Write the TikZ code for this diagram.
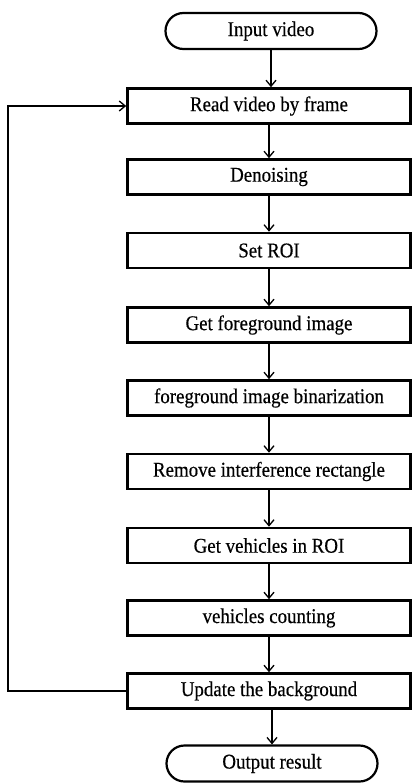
\documentclass[tikz,border=0pt]{standalone}
\usepackage{fontspec}
\setmainfont[FakeStretch=0.9,FakeBold=0.4]{Liberation Serif}
\usetikzlibrary{arrows.meta,shapes.misc}
\begin{document}
\begin{tikzpicture}[x=1pt,y=-1pt,
  stepbox/.style={draw,line width=2.6pt,minimum width=283pt,minimum height=35pt,inner sep=0pt,font=\fontsize{21}{23}\selectfont},
  term/.style={draw,line width=2.2pt,rounded rectangle,minimum width=211pt,minimum height=36pt,inner sep=0pt,font=\fontsize{21}{23}\selectfont},
  arr/.style={line width=1.3pt,-{Straight Barb[length=6pt,width=10pt,line width=1.3pt]}}]
\useasboundingbox (0,0) rectangle (413,784);
\node[term] (in) at (271,31) {Input video};
\node[stepbox] (read) at (269,106) {Read video by frame};
\node[stepbox] (den) at (269,177) {Denoising};
\node[stepbox] (roi) at (269,250.5) {Set ROI};
\node[stepbox] (fg) at (269,325) {Get foreground image};
\node[stepbox] (bin) at (269,398) {foreground image binarization};
\node[stepbox] (rem) at (269,471.5) {Remove interference rectangle};
\node[stepbox] (veh) at (269,545.5) {Get vehicles in ROI};
\node[stepbox] (cnt) at (269,618) {vehicles counting};
\node[stepbox] (upd) at (269,691) {Update the background};
\node[term] (out) at (272,763.5) {Output result};
\coordinate (lb) at (8,691);
\coordinate (lt) at (8,106);
\draw[arr] (in.south) -- (in.south |- read.north);
\draw[arr] (read) -- (den);
\draw[arr] (den) -- (roi);
\draw[arr] (roi) -- (fg);
\draw[arr] (fg) -- (bin);
\draw[arr] (bin) -- (rem);
\draw[arr] (rem) -- (veh);
\draw[arr] (veh) -- (cnt);
\draw[arr] (cnt) -- (upd);
\draw[arr] (upd.south -| out.north) -- (out.north);
\draw[arr] (upd.west) -- (lb) -- (lt) -- (read.west);
\end{tikzpicture}
\end{document}
